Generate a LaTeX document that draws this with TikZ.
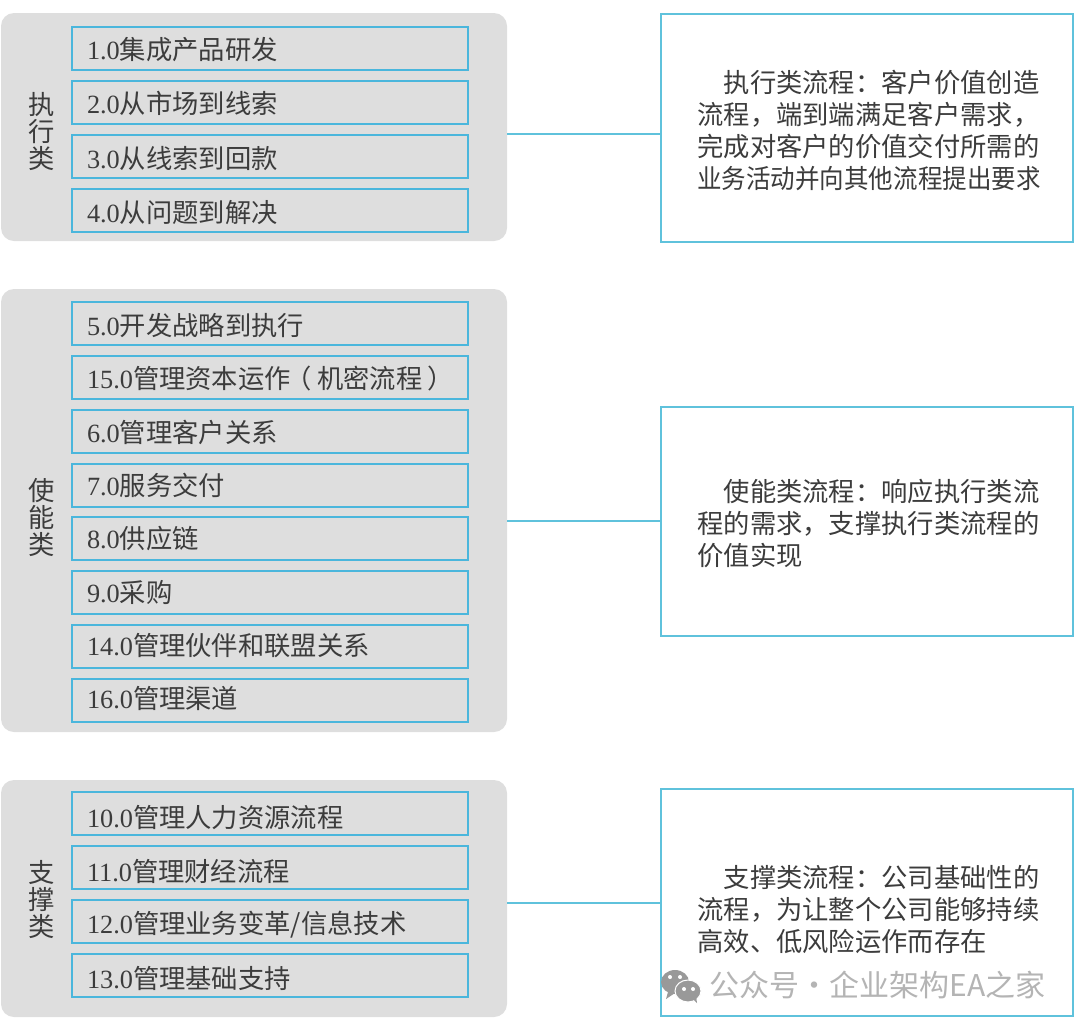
\documentclass[tikz,border=0pt]{standalone}
\usepackage{fontspec}
\setmainfont{Liberation Serif}
\newfontfamily\cjk{Noto Sans CJK SC}

\definecolor{panelgray}{HTML}{DEDEDE}
\definecolor{boxblue}{HTML}{4AB6DC}
\definecolor{noteblue}{HTML}{5FC2DC}
\definecolor{inkgray}{HTML}{3C3C3C}
\definecolor{markgray}{HTML}{B4B4B4}

\tikzset{
  panel/.style={fill=panelgray, rounded corners=6.5pt, minimum width=253pt, inner sep=0pt},
  itembox/.style={draw=boxblue, line width=1pt, text=inkgray, minimum height=21.5pt,
    text width=183pt, inner xsep=7.5pt, inner ysep=0pt, align=left, font=\fontsize{13.15}{16}\selectfont},
  sidelabel/.style={text=inkgray, align=center, inner sep=0pt, font=\fontsize{13.15}{13.5}\selectfont\cjk},
  notebox/.style={draw=noteblue, line width=1pt, fill=white, minimum width=206pt, inner sep=0pt},
  notetext/.style={text=inkgray, anchor=west, align=left, inner sep=0pt, font=\fontsize{13.15}{16}\selectfont\cjk},
  link/.style={draw=noteblue, line width=1pt}
}

\begin{document}
\begin{tikzpicture}[x=0.5pt,y=-0.5pt]
  \useasboundingbox (0,0) rectangle (1080,1029);

  % grey panels
  \node[panel, minimum height=114pt] (execpanel) at (254,127) {};
  \node[panel, minimum height=221.5pt] (enablepanel) at (254,510.5) {};
  \node[panel, minimum height=118.5pt] (supportpanel) at (254,898.5) {};

  \node[sidelabel] (execlabel) at (41.5,131) {执\\行\\类};
  \node[sidelabel] (enablelabel) at (41.5,517) {使\\能\\类};
  \node[sidelabel] (supportlabel) at (41.5,899) {支\\撑\\类};

  % process items, the last field lowers the text inside its box
  \foreach \idx/\ypos/\num/\title/\lift in {
    a/48/1.0/{集成产品研发}/1, b/102/2.0/{从市场到线索}/0.75, c/156/3.0/{从线索到回款}/1.25, d/210/4.0/{从问题到解决}/1.25,
    e/323/5.0/{开发战略到执行}/1.25, f/377/15.0/{管理资本运作\hspace{-2.5pt}（\hspace{2.5pt}机密流程\hspace{2.5pt}）}/0.75, g/431/6.0/{管理客户关系}/0.75,
    h/485/7.0/{服务交付}/0.25, i/538.5/8.0/{供应链}/0, j/592/9.0/{采购}/0.25, k/646/14.0/{管理伙伴和联盟关系}/-0.25, l/700/16.0/{管理渠道}/-0.75,
    m/813.5/10.0/{管理人力资源流程}/2, n/867.5/11.0/{管理财经流程}/2, o/921/12.0/{管理业务变革/信息技术}/1.25, p/975/13.0/{管理基础支持}/1.75}
    \node[itembox] (item\idx) at (270,\ypos) {\raisebox{-\lift pt}[9.5pt][0pt]{\num{\cjk\title}}};

  % explanation boxes
  \node[notebox, minimum height=114pt] (execnote) at (867,128) {};
  \node[notebox, minimum height=114.5pt] (enablenote) at (867,521.5) {};
  \node[notebox, minimum height=113.5pt] (supportnote) at (867,902.5) {};

  \node[notetext] (exectext) at (697,130.5) {\hspace{13.15pt}执行类流程：客户价值创造\\流程，端到端满足客户需求，\\完成对客户的价值交付所需的\\\scalebox{0.932}[1]{业务活动并向其他流程提出要求}};
  \node[notetext] (enabletext) at (697,523) {\hspace{13.15pt}使能类流程：响应执行类流\\程的需求，支撑执行类流程的\\价值实现};
  \node[notetext] (supporttext) at (697,909) {\hspace{13.15pt}支撑类流程：公司基础性的\\流程，为让整个公司能够持续\\高效、低风险运作而存在};

  % links between panels and boxes
  \coordinate (execy) at (0,134);
  \coordinate (enabley) at (0,521);
  \coordinate (supporty) at (0,903);
  \draw[link] (execpanel.east |- execy) -- (execnote.west |- execy);
  \draw[link] (enablepanel.east |- enabley) -- (enablenote.west |- enabley);
  \draw[link] (supportpanel.east |- supporty) -- (supportnote.west |- supporty);

  % chat bubbles and account name
  \fill[markgray!85!black] (675,982) ellipse (14 and 12);
  \fill[markgray!85!black] (668,992) -- (666,999) -- (675,993) -- cycle;
  \fill[markgray!85!black, draw=white, line width=0.5pt] (688,991) ellipse (13 and 11);
  \fill[markgray!85!black] (693,999) -- (697,1003) -- (696,996) -- cycle;
  \foreach \dotx/\doty in {670/977, 680/977, 684/989, 693/989}
    \fill[white] (\dotx,\doty) circle (2);
  \node[anchor=west, text=markgray, inner sep=0pt, font=\fontsize{15}{16}\selectfont\cjk] (account) at (709,985) {公众号·企业架构EA之家};
\end{tikzpicture}
\end{document}
